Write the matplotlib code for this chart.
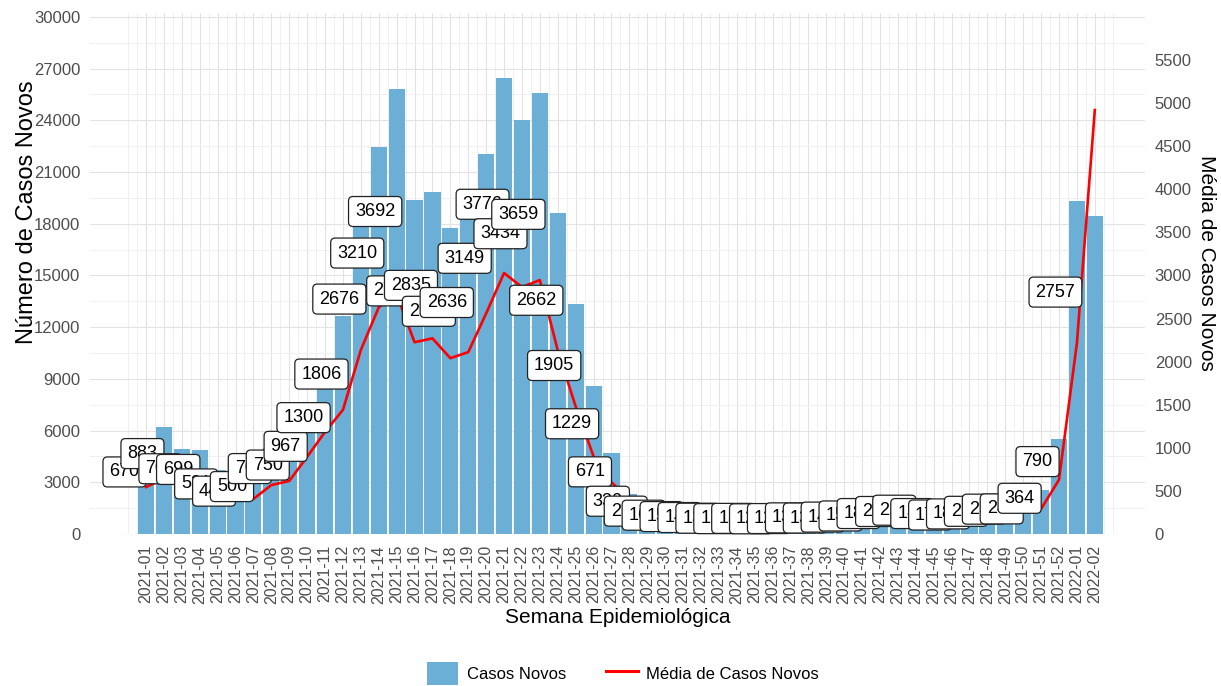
import numpy as np
import matplotlib
matplotlib.use("Agg")
import matplotlib.pyplot as plt
from matplotlib.patches import Patch
from matplotlib.lines import Line2D

plt.rcParams['font.family'] = ['Liberation Sans', 'DejaVu Sans']

# semanas epidemiologicas
semanas = ["2021-%02d" % i for i in range(1, 53)] + ["2022-01", "2022-02"]

# casos novos por semana (eixo esquerdo)
casos = [3300, 6180, 4950, 4890, 3720, 3130, 3500, 4960, 5250, 6770,
         9100, 12640, 18730, 22470, 25840, 19400, 19850, 17740, 18450, 22040,
         26430, 24040, 25610, 18630, 13340, 8600, 4700, 2310, 1505, 1180,
         1065, 990, 930, 900, 920, 880, 905, 960, 945, 1020,
         1110, 1310, 1480, 1580, 1310, 1190, 1280, 1490, 1670, 1690,
         2550, 5530, 19300, 18450]

# media de casos novos (eixo direito)
media = [545, 640, 610, 545, 480, 418, 406, 568, 615, 895,
         1185, 1440, 2135, 2630, 2780, 2225, 2270, 2040, 2110, 2560,
         3028, 2865, 2946, 2130, 1480, 900, 600, 400, 280, 220,
         190, 170, 160, 150, 145, 140, 140, 140, 145, 150,
         160, 170, 185, 200, 200, 195, 195, 205, 225, 250,
         290, 630, 2215, 4920]

# rotulos (media diaria de cada semana)
rotulos = [670, 883, 707, 699, 531, 447, 500, 709, 750, 967,
           1300, 1806, 2676, 3210, 3692, 2771, 2835, 2534, 2636, 3149,
           3776, 3434, 3659, 2662, 1905, 1229, 671, 330, 215, 168,
           152, 141, 133, 128, 131, 126, 129, 137, 135, 146,
           159, 187, 211, 226, 187, 170, 183, 213, 238, 241,
           364, 790, 2757]

fig = plt.figure(figsize=(12.21, 6.86), dpi=100)
ax = fig.add_axes([0.0737, 0.2216, 0.864, 0.760])
x = np.arange(len(semanas))

ax.bar(x, casos, width=0.9, color='#6BAED6', zorder=2)
ax.set_xlim(-3.13, 55.8)
ax.set_ylim(0, 30250)
ax.set_yticks(np.arange(0, 30001, 3000))
ax.set_yticks(np.arange(1500, 30000, 3000), minor=True)
ax.set_xticks(x)
ax.set_xticks(np.arange(-1, 54.01, 0.5), minor=True)
ax.set_xticklabels(semanas, rotation=90, fontsize=11.5, color='#4D4D4D')
ax.tick_params(axis='y', labelsize=12, labelcolor='#4D4D4D', pad=7)
ax.tick_params(axis='x', pad=8)
ax.tick_params(which='both', length=0)
ax.grid(which='major', color='#E3E3E3', lw=0.8, zorder=0)
ax.grid(which='minor', color='#EEEEEE', lw=0.6, zorder=0)
ax.set_axisbelow(True)
for s in ax.spines.values():
    s.set_visible(False)

ax.set_ylabel("Número de Casos Novos", fontsize=17, ha='center', va='center')
ax.yaxis.set_label_coords(-0.0597, 0.618)
ax.set_xlabel("Semana Epidemiológica", fontsize=15, ha='center', va='center')
ax.xaxis.set_label_coords(0.5, -0.161)

ax2 = ax.twinx()
ax2.set_ylim(0, 30250 / 5)
ax2.set_yticks(np.arange(0, 5501, 500))
ax2.tick_params(axis='y', labelsize=12, labelcolor='#4D4D4D', length=0, pad=7)
for s in ax2.spines.values():
    s.set_visible(False)
ax2.plot(x, media, color='red', lw=1.9, zorder=3)

for j, v in enumerate(rotulos):
    ax2.text(j - 1.2, v + 50, str(v), ha='center', va='center', fontsize=13,
             color='black', zorder=4,
             bbox=dict(boxstyle='round,pad=0.36,rounding_size=0.25',
                       fc='white', ec='#222222', lw=0.9))

ax2.set_ylabel("Média de Casos Novos", fontsize=15, rotation=270,
               ha='center', va='center')
ax2.yaxis.set_label_coords(1.058, 0.52)

handles = [Patch(facecolor='#6BAED6', edgecolor='none'),
           Line2D([0], [0], color='red', lw=2.2)]
fig.legend(handles, ["Casos Novos", "Média de Casos Novos"], loc='center',
           bbox_to_anchor=(0.51, 0.018), ncol=2, frameon=False, fontsize=12,
           handlelength=1.9, handleheight=1.7, handletextpad=0.5,
           columnspacing=2.4)

fig.savefig("out.png", dpi=100)
